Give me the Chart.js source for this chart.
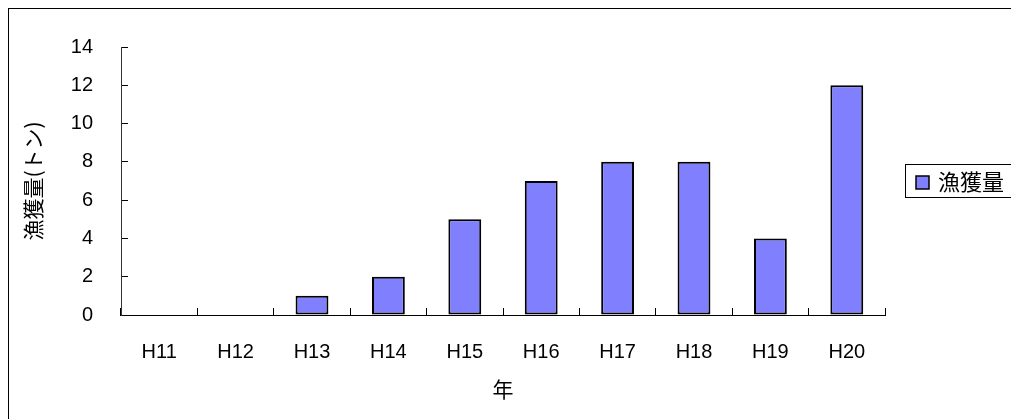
<!DOCTYPE html>
<html><head><meta charset="utf-8">
<script src="https://cdn.jsdelivr.net/npm/chart.js@4"></script>
<style>html,body{margin:0;padding:0;background:#fff}</style>
</head><body>
<canvas id="c" width="1011" height="419"></canvas>
<script>
const categories = ['H11','H12','H13','H14','H15','H16','H17','H18','H19','H20'];
const catchTons = [0, 0, 1, 2, 5, 7, 8, 8, 4, 12];
const yTickValues = [0, 2, 4, 6, 8, 10, 12, 14];
const seriesLabel = '漁獲量';
const yTitle = '漁獲量(トン)';
const xTitle = '年';

const latinFont = "'Liberation Sans', 'Noto Sans CJK JP', sans-serif";
const cjkFont = "'Noto Sans CJK JP', 'Liberation Sans', sans-serif";
const barFill = '#8080FF';

const framePlugin = {
  id: 'frame',
  afterDraw(chart) {
    const ctx = chart.ctx;
    ctx.save();
    ctx.strokeStyle = '#000';
    ctx.lineWidth = 1;
    ctx.strokeRect(8.5, 8.5, 1100, 500);
    // legend
    const ds = chart.data.datasets[0];
    ctx.strokeRect(905.5, 164.5, 200, 33);
    ctx.fillStyle = ds.backgroundColor;
    ctx.fillRect(916, 176, 13, 13);
    ctx.lineWidth = 1.5;
    ctx.strokeRect(916, 176, 13, 13);
    ctx.fillStyle = '#000';
    ctx.font = "22px " + cjkFont;
    ctx.textBaseline = 'middle';
    ctx.textAlign = 'left';
    ctx.fillText(ds.label, 938, 182);
    ctx.restore();
  }
};

new Chart(document.getElementById('c'), {
  type: 'bar',
  data: {
    labels: categories,
    datasets: [{
      label: seriesLabel,
      data: catchTons,
      backgroundColor: barFill,
      borderColor: '#000',
      borderWidth: 2,
      borderSkipped: false,
      barPercentage: 0.43,
      categoryPercentage: 1.0
    }]
  },
  options: {
    responsive: false,
    animation: false,
    devicePixelRatio: 1,
    layout: { padding: { left: 0, top: 46, right: 126, bottom: 0 } },
    plugins: { legend: { display: false }, tooltip: { enabled: false } },
    scales: {
      x: {
        offset: true,
        grid: { display: true, offset: true, drawOnChartArea: false, drawTicks: true, tickLength: -7, color: '#000', lineWidth: 1 },
        border: { display: true, color: '#000', width: 1 },
        ticks: { color: '#000', padding: 32, maxRotation: 0, font: { family: latinFont, size: 20 } },
        title: { display: true, text: xTitle, color: '#000', font: { family: cjkFont, size: 21 }, padding: { top: 0, bottom: 17 } },
        afterFit(s) { s.height = 104; }
      },
      y: {
        min: 0, max: 14,
        afterBuildTicks(s) { s.ticks = yTickValues.map(v => ({ value: v })); },
        grid: { display: true, drawOnChartArea: false, drawTicks: true, tickLength: -7, color: '#000', lineWidth: 1 },
        border: { display: true, color: '#333', width: 1 },
        ticks: { color: '#000', padding: 35, font: { family: latinFont, size: 20 } },
        title: { display: true, text: yTitle, color: '#000', font: { family: cjkFont, size: 21 }, padding: { top: 20, bottom: 0 } },
        afterFit(s) { s.width = 121; }
      }
    }
  },
  plugins: [framePlugin]
});
</script>
</body></html>
